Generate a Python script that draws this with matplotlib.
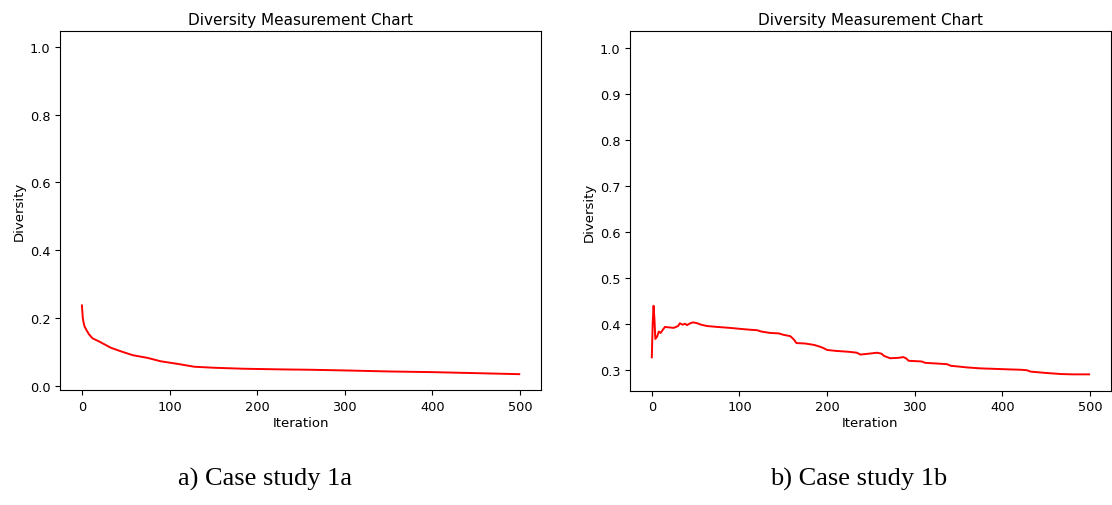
import numpy as np
import matplotlib.pyplot as plt

# caso 1a: diversidad por iteracion
iter_a = [0, 1, 2, 3, 5, 8, 12, 20, 33, 45, 58, 75, 90, 110, 128, 150,
          185, 230, 261, 300, 350, 400, 450, 499]
div_a = [0.237, 0.200, 0.185, 0.175, 0.165, 0.152, 0.140, 0.130, 0.112,
         0.101, 0.090, 0.082, 0.072, 0.064, 0.056, 0.053, 0.050, 0.048,
         0.047, 0.045, 0.042, 0.040, 0.037, 0.034]

# caso 1b
iter_b = [0, 1, 2, 3, 4, 6, 8, 10, 13, 15, 20, 25, 30, 32, 35, 38, 40, 44,
          47, 52, 56, 63, 75, 89, 100, 112, 120, 125, 135, 145, 150, 158,
          162, 165, 175, 185, 192, 196, 200, 210, 225, 234, 238, 248, 257,
          262, 265, 272, 282, 287, 290, 293, 308, 312, 330, 337, 341, 355,
          360, 375, 390, 405, 421, 428, 432, 450, 467, 480, 499]
div_b = [0.327, 0.400, 0.439, 0.410, 0.367, 0.372, 0.383, 0.380, 0.388,
         0.393, 0.392, 0.391, 0.395, 0.401, 0.398, 0.400, 0.397, 0.401,
         0.403, 0.401, 0.398, 0.395, 0.393, 0.391, 0.389, 0.387, 0.386,
         0.383, 0.380, 0.379, 0.376, 0.373, 0.366, 0.358, 0.357, 0.354,
         0.350, 0.347, 0.343, 0.341, 0.339, 0.337, 0.333, 0.335, 0.337,
         0.335, 0.330, 0.325, 0.326, 0.3275, 0.325, 0.3195, 0.318, 0.315,
         0.313, 0.312, 0.3087, 0.306, 0.305, 0.303, 0.302, 0.301, 0.300,
         0.299, 0.296, 0.293, 0.2907, 0.290, 0.290]

fig = plt.figure(figsize=(11.12, 5.06), dpi=100)

ax1 = fig.add_axes([0.0540, 0.2267, 0.4326, 0.7095])
ax1.plot(iter_a, div_a, color="red", linewidth=1.4)
ax1.set_xlim(-24.95, 523.95)
ax1.set_ylim(-0.0136, 1.0463)
ax1.set_yticks(np.linspace(0, 1, 6))
ax1.set_title("Diversity Measurement Chart", fontsize=11, pad=5)
ax1.set_xlabel("Iteration", fontsize=9.5, labelpad=2)
ax1.set_ylabel("Diversity", fontsize=9.5, labelpad=3)
ax1.tick_params(labelsize=9.3)

ax2 = fig.add_axes([0.5665, 0.2259, 0.4326, 0.7103])
ax2.plot(iter_b, div_b, color="red", linewidth=1.4)
ax2.set_xlim(-24.95, 523.95)
ax2.set_ylim(0.2545, 1.0355)
ax2.set_yticks(np.linspace(0.3, 1.0, 8))
ax2.set_title("Diversity Measurement Chart", fontsize=11, pad=5)
ax2.set_xlabel("Iteration", fontsize=9.5, labelpad=2)
ax2.set_ylabel("Diversity", fontsize=9.5, labelpad=3)
ax2.tick_params(labelsize=9.3)

fig.text(265 / 1112, 1 - 486 / 506, "a) Case study 1a", family="Liberation Serif",
         fontsize=19, ha="center", va="baseline")
fig.text(859 / 1112, 1 - 486 / 506, "b) Case study 1b", family="Liberation Serif",
         fontsize=19, ha="center", va="baseline")

fig.savefig("out.png", dpi=100)
